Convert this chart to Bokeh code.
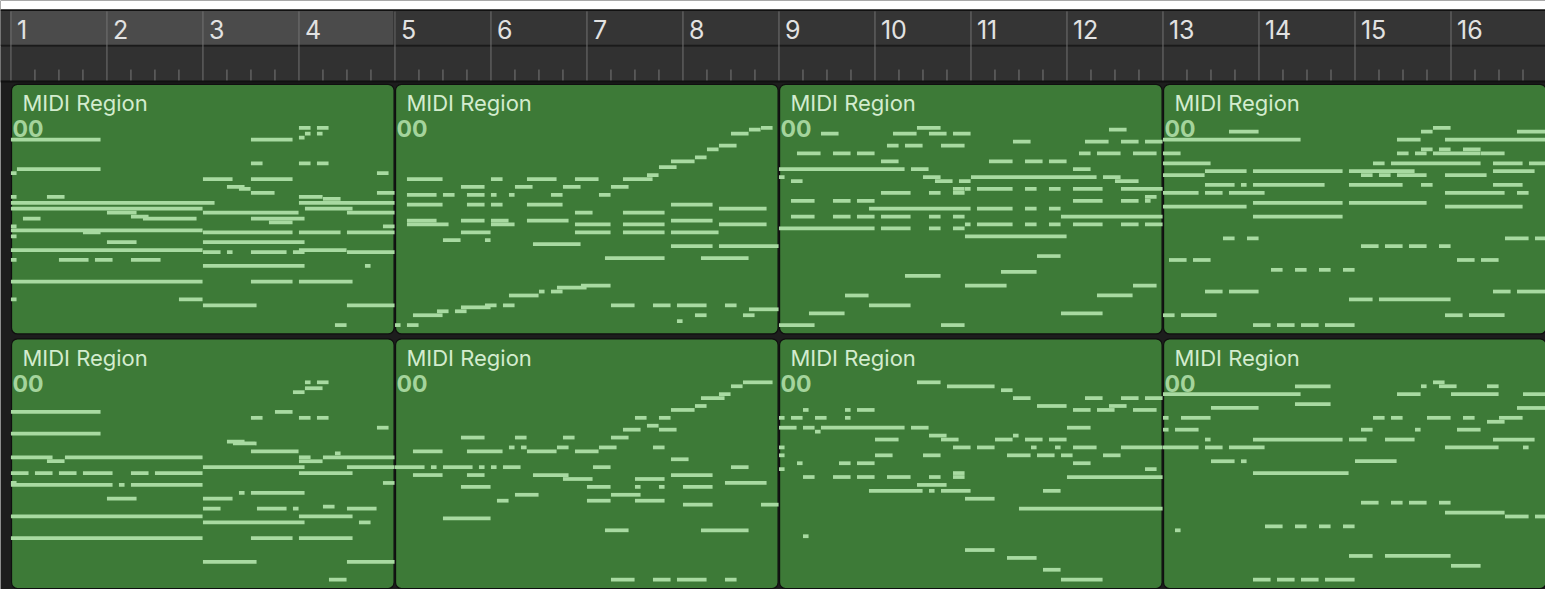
from bokeh.plotting import figure
from bokeh.models import Range1d, ColumnDataSource
from bokeh.core.properties import value
from bokeh.embed import file_html
from bokeh.resources import INLINE

# ---------------- data ----------------
BAR_NUMBERS = list(range(1, 17))
BEATS_PER_BAR = 4
REGION_START_BARS = [1, 5, 9, 13]
REGION_BARS = 4
REGION_TITLE = "MIDI Region"
REGION_SUB = "00"
CYCLE_BARS = (1, 5)

# notes: (start in 16ths within region, length in 16ths, pitch)
T1_R1 = [(0,15,114),(40,7,114),(48,2,120),(51,2,120),(49,1,117),(51,1,117),(48,1,115),
         (40,2,102),(48,2,102),(51,2,102),(0,1,97),(1,14,99),(61,2,97),(32,5,94),(40,7,94),
         (36,3,90),(38,2,89),(40,4,87),(61,3,87),(0,1,85),(6,3,85),(48,4,85),(52,3,84),
         (0,34,82),(48,16,82),(0,32,79),(16,5,77),(32,16,77),(49,8,79),(56,8,77),
         (2,3,74),(20,3,75),(22,9,74),(40,9,74),(43,4,72),(0,1,70),(0,32,68),(12,3,67),
         (32,15,67),(48,7,67),(56,8,67),(62,2,70),(0,1,65),
         (16,5,62),(32,17,62),(0,32,58),(32,3,57),(36,1,57),(40,6,57),(47,2,57),(48,8,58),(56,8,57),
         (0,1,53),(8,5,53),(14,3,53),(20,5,53),(32,17,50),(59,1,50),(0,32,42),(40,7,42),(48,9,42),
         (0,1,33),(28,4,33),(32,9,30),(56,8,30),(54,2,20)]
T1_R2 = [(0,1,20),(2,2,20),(3,5,25),(7,2,27),(10,2,27),(11,5,29),(15,2,30),(18,2,30),(19,5,35),
         (24,1,37),(26,2,37),(27,5,39),(31,5,40),
         (36,4,30),(43,3,30),(47,5,30),(55,2,30),(59,5,28),(47,1,22),(50,2,25),(58,2,25),
         (56,3,117),(59,2,119),(61,2,120),(54,3,111),(52,2,109),(50,2,105),(46,4,103),(44,3,100),
         (42,2,96),(38,5,94),(36,3,90),
         (2,6,94),(16,2,94),(22,5,94),(30,4,94),(11,4,90),(20,3,90),(28,3,90),
         (2,5,86),(8,2,86),(12,3,86),(16,1,86),(19,1,86),(26,2,86),(34,2,86),
         (2,6,81),(12,3,81),(16,2,81),(22,6,81),(46,7,81),(54,8,79),(30,3,77),(38,7,77),
         (2,5,73),(2,7,71),(11,4,73),(16,3,73),(16,4,71),(22,7,73),(30,6,71),(38,7,71),(46,7,73),(54,8,71),
         (11,5,67),(30,6,67),(38,7,67),(46,8,67),(8,3,63),(15,1,63),(23,8,61),(46,7,60),(54,10,60),
         (35,10,54),(51,8,54)]
T1_R3 = [(7,3,117),(19,4,117),(23,4,120),(25,3,117),(29,3,117),(55,3,119),
         (18,2,111),(21,3,111),(27,4,111),(39,3,113),(51,4,113),(57,3,113),(61,3,113),
         (3,4,107),(9,3,107),(13,3,107),(50,2,107),(53,4,107),(59,4,107),
         (17,3,103),(35,4,103),(41,3,103),(45,3,103),
         (0,21,99),(22,3,99),(49,3,99),
         (0,1,95),(2,2,93),(24,3,95),(26,3,93),(30,2,93),(32,21,95),(54,3,95),(56,4,93),
         (17,5,87),(25,2,87),(29,2,89),(29,2,87),(31,1,89),(33,6,89),(41,2,89),(45,2,89),(49,5,89),(57,7,89),
         (2,4,83),(9,3,83),(13,3,83),(49,5,83),(57,3,83),(61,2,85),(61,1,83),
         (15,17,79),(33,6,79),(41,2,79),(45,2,79),
         (2,4,75),(9,3,75),(13,3,75),(17,5,75),(25,2,75),(29,2,75),(47,17,75),
         (31,1,71),(33,6,71),(41,2,71),(45,2,71),(49,5,71),(57,3,71),(61,3,71),
         (0,16,69),(17,5,69),(25,2,69),(29,2,69),
         (31,17,65),(43,4,55),(21,6,45),(37,6,47),(31,7,40),(59,4,40),(11,4,35),(53,6,35),
         (15,7,30),(5,6,26),(47,7,26),(0,6,20),(27,4,20)]
T1_R4 = [(11,5,118),(0,23,114),(43,2,118),(45,3,120),(59,5,118),(39,4,114),(47,17,114),
         (0,3,107),(39,2,107),(42,2,107),(43,2,109),(45,8,107),(46,2,109),(50,3,109),(53,4,107),
         (0,8,102),(35,2,102),(38,15,102),(55,5,102),(61,3,102),
         (7,7,98),(15,15,98),(31,11,98),(55,7,98),(0,7,96),(33,2,96),(36,2,96),(39,5,96),(47,7,96),
         (7,5,91),(13,1,91),(15,12,91),(31,9,91),(43,2,91),(55,5,91),
         (0,6,87),(7,3,87),(11,6,87),(47,10,87),(59,2,87),
         (15,15,82),(31,13,82),(0,14,80),(47,13,80),(15,15,75),
         (10,2,64),(14,2,64),(57,4,64),(62,2,64),(33,3,60),(37,3,60),(41,3,60),(46,2,60),
         (1,3,53),(5,3,53),(49,3,53),(53,3,53),(18,2,48),(22,2,48),(26,2,48),(30,2,48),
         (7,3,37),(11,5,37),(55,3,37),(59,5,37),(31,4,33),(36,12,33),(0,2,25),(3,6,25),(47,3,25),(51,6,25),
         (15,3,20),(19,3,20),(23,3,20),(27,5,20)]
T2_R1 = [(49,1,120),(51,2,120),(49,3,117),(47,2,115),(0,15,105),(44,3,105),(40,2,102),(48,2,102),
         (51,2,102),(61,2,97),(0,15,94),
         (36,3,90),(37,4,89),(40,8,85),(0,7,82),(6,3,80),(9,23,82),(48,2,82),(48,4,80),(52,12,82),(54,1,84),
         (32,17,77),(56,8,77),(0,3,74),(4,3,74),(8,3,74),(12,5,74),(20,3,74),(24,8,74),(48,9,74),
         (62,2,69),(0,1,69),(0,17,68),(18,1,68),(20,12,68),(38,1,64),(40,9,64),(16,5,61),(32,5,61),
         (32,3,56),(41,5,56),(47,1,56),(52,2,57),(56,5,56),(0,32,52),(48,9,52),(32,17,49),(58,2,49),
         (0,32,41),(40,7,41),(48,9,41),(32,9,29),(56,8,29),(53,3,20)]
T2_R2 = [(58,5,120),(56,2,118),(54,2,114),(51,4,112),(50,2,108),(46,4,106),(40,2,102),(44,2,102),
         (42,2,98),(38,3,96),(44,3,96),(36,3,92),
         (11,4,92),(20,2,92),(28,2,92),(19,1,87),(21,1,87),(27,2,87),(34,3,87),(43,2,87),
         (3,5,85),(12,6,85),(22,5,85),(30,4,85),(46,3,81),
         (0,5,77),(6,1,77),(8,5,77),(14,1,77),(16,1,77),(18,3,77),(33,3,77),(56,3,77),
         (3,5,73),(12,3,73),(23,6,73),(28,5,71),(40,5,71),(46,7,73),(55,7,69),
         (11,5,67),(32,4,67),(40,1,67),(44,1,67),(48,5,67),(20,4,63),(36,5,63),(17,2,60),(32,4,60),
         (40,5,60),(48,5,58),(61,3,58),
         (8,8,51),(35,4,45),(51,8,45),(36,4,20),(43,3,20),(47,5,20),(55,2,20)]
T2_R3 = [(23,4,120),(28,8,118),(37,2,116),(39,3,112),(51,3,112),(57,3,112),(61,3,112),(43,5,108),(55,3,108),
         (4,1,106),(11,1,106),(13,3,106),(49,3,106),(53,3,106),(59,4,106),
         (0,1,102),(2,2,102),(6,2,102),(11,1,102),
         (0,3,97),(4,2,97),(6,1,95),(7,14,97),(22,3,97),(48,4,97),
         (16,4,91),(25,3,93),(27,3,91),(36,3,91),(39,1,93),(41,3,91),(45,3,91),
         (0,1,87),(29,3,87),(33,3,87),(42,1,87),(46,1,87),(49,4,87),(57,7,87),
         (0,1,83),(16,3,83),(24,3,83),(38,4,83),(43,3,83),(47,2,83),(54,3,83),
         (3,1,79),(10,2,79),(13,3,79),(49,3,79),(0,1,76),(61,2,76),
         (4,2,72),(9,3,72),(13,3,72),(18,4,72),(25,2,72),(29,2,74),(29,2,72),(48,16,72),
         (15,9,65),(23,5,68),(25,1,65),(27,5,65),(44,3,65),(31,5,61),(40,24,56),
         (4,1,42),(31,5,35),(38,5,31),(44,3,25),(47,7,20)]
T2_R4 = [(22,6,118),(43,1,118),(45,2,120),(46,3,118),(54,2,118),(0,23,114),(39,4,114),(48,8,114),
         (60,4,114),(22,6,109),(8,8,107),(59,5,107),
         (0,1,102),(3,5,102),(35,2,102),(38,2,102),(44,4,102),(50,2,102),(54,3,100),(56,4,102),
         (0,1,96),(2,4,96),(33,2,96),(42,1,96),(49,4,96),
         (7,1,91),(15,15,91),(31,3,91),(37,5,91),(55,7,91),
         (0,6,87),(7,3,87),(11,6,87),(47,9,87),(60,1,87),
         (8,4,80),(13,1,80),(32,7,80),(15,16,74),
         (33,3,59),(38,2,59),(41,3,59),(46,2,59),(47,10,54),(57,4,52),(62,2,52),
         (2,1,45),(17,3,47),(22,2,47),(26,2,47),(30,2,47),(31,4,32),(37,11,32),(48,5,27),
         (15,3,20),(19,3,20),(23,3,20),(27,5,20)]

TRACKS = [[T1_R1, T1_R2, T1_R3, T1_R4], [T2_R1, T2_R2, T2_R3, T2_R4]]

# ---------------- layout / style ----------------
W, H = 1545, 589
VIEW_W, VIEW_H = 1553, 597     # reference frame, squeezed into the figure
PX_PER_BEAT = 24.125
ORIGIN_X = 10.5                # frame x of bar 1
X0 = -ORIGIN_X / PX_PER_BEAT
X1 = (VIEW_W - ORIGIN_X) / PX_PER_BEAT
px = 1.0 / PX_PER_BEAT         # one frame pixel in beats

RULER_TOP, RULER_MID, RULER_BOT = 10, 45.5, 82
TRACK_TOPS = [85, 343]
TRACK_H = 253
PITCH_TOP, PITCH_PX, NOTE_OFF = 120, 2.0, 44

BG = "#1d1d1d"
REGION_FILL = "#3d7a37"
NOTE_COLOR = "#a8daa1"
TITLE_COLOR = "#d3ecce"

p = figure(width=W, height=H, output_backend="svg", toolbar_location=None,
           x_range=Range1d(X0, X1), y_range=Range1d(VIEW_H, 0),
           min_border=0, outline_line_color=None,
           background_fill_color=BG, border_fill_color=BG)
p.axis.visible = False
p.grid.visible = False

# white top strip
p.quad(left=[X0], right=[X1], top=[0], bottom=[RULER_TOP - 1], fill_color="white", line_color=None)
# ruler rows
p.quad(left=[X0], right=[X1], top=[RULER_TOP], bottom=[RULER_MID], fill_color="#353535", line_color=None)
c0 = (CYCLE_BARS[0] - 1) * BEATS_PER_BAR
c1 = (CYCLE_BARS[1] - 1) * BEATS_PER_BAR
p.quad(left=[c0 - 0.5 * px], right=[c1], top=[RULER_TOP], bottom=[RULER_MID], fill_color="#4b4b4b", line_color=None)
p.segment(x0=[c1 - 0.5 * px], x1=[c1 - 0.5 * px], y0=[RULER_TOP], y1=[RULER_MID], line_color="#262626", line_width=2)
p.quad(left=[X0], right=[X1], top=[RULER_MID + 1], bottom=[RULER_BOT], fill_color="#313131", line_color=None)
p.segment(x0=[X0], x1=[X1], y0=[RULER_MID], y1=[RULER_MID], line_color="#1a1a1a", line_width=1.5)
p.segment(x0=[X0], x1=[X1], y0=[RULER_TOP], y1=[RULER_TOP], line_color="#111111", line_width=1.5)
p.segment(x0=[X0], x1=[X1], y0=[RULER_BOT], y1=[RULER_BOT], line_color="#111111", line_width=2)

bar_x = [(b - 1) * BEATS_PER_BAR for b in BAR_NUMBERS]
p.segment(x0=bar_x, x1=bar_x, y0=[RULER_TOP + 1] * len(bar_x), y1=[RULER_BOT - 1] * len(bar_x),
          line_color="#727272", line_width=1)
beat_x = [bx + k for bx in bar_x for k in range(1, BEATS_PER_BAR)]
p.segment(x0=beat_x, x1=beat_x, y0=[70] * len(beat_x), y1=[RULER_BOT - 1] * len(beat_x),
          line_color="#7a7a7a", line_width=1)
p.text(x=[bx + 6 * px for bx in bar_x], y=[29] * len(bar_x), text=[str(b) for b in BAR_NUMBERS],
       text_font=value("Inter"), text_font_size="25px", text_color="#e2e2e2",
       text_baseline="middle", text_align="left")

# regions
rl, rr, rt, rb = [], [], [], []
tx, ty, sx, sy = [], [], [], []
nl, nr, nt, nb = [], [], [], []
for ti, regions in enumerate(TRACKS):
    top = TRACK_TOPS[ti]
    for ri, notes in enumerate(regions):
        start = (REGION_START_BARS[ri] - 1) * BEATS_PER_BAR
        end = start + REGION_BARS * BEATS_PER_BAR
        rl.append(start + 0.6 * px); rr.append(end - 0.9 * px)
        rt.append(top); rb.append(top + TRACK_H)
        tx.append(start + 11.5 * px); ty.append(top + 19)
        sx.append(start + 1.5 * px); sy.append(top + 45)
        for s16, l16, pitch in notes:
            a = start + s16 / 4.0
            b = min(start + (s16 + l16) / 4.0, end) - 0.4 * px
            yc = top + NOTE_OFF + (PITCH_TOP - pitch) * PITCH_PX
            nl.append(a); nr.append(b); nt.append(yc - 1.9); nb.append(yc + 1.9)

p.quad(left=rl, right=rr, top=rt, bottom=rb, fill_color=REGION_FILL, line_color="#0f0f0f",
       line_width=1.2, border_radius=6)
p.quad(source=ColumnDataSource(dict(left=nl, right=nr, top=nt, bottom=nb)),
       left="left", right="right", top="top", bottom="bottom",
       fill_color=NOTE_COLOR, line_color=None)
p.text(x=tx, y=ty, text=[REGION_TITLE] * len(tx), text_font=value("Inter"), text_font_size="22px",
       text_color=TITLE_COLOR, text_baseline="middle", text_align="left")
p.text(x=sx, y=sy, text=[REGION_SUB] * len(sx), text_font=value("Inter"), text_font_size="23px",
       text_font_style="bold", text_color="#a4d49c", text_baseline="middle", text_align="left")

open("out.html", "w").write(file_html(p, INLINE))
